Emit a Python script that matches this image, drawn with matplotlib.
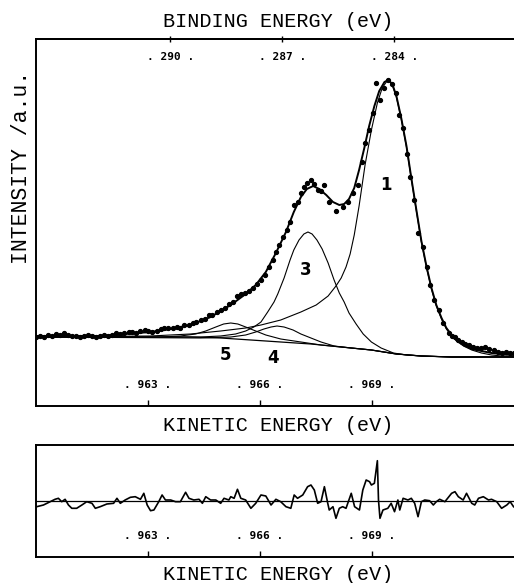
# XPS C 1s spectrum: data points, fitted envelope, components 1,3,4,5 and residual
import numpy as np
import matplotlib.pyplot as plt

# ----------------------------
# data (kinetic energy in eV, intensity in a.u.)
# ----------------------------
ke_data = [960.00, 960.11, 960.22, 960.32, 960.43, 960.54, 960.65, 960.75, 960.86, 960.97,
           961.08, 961.18, 961.29, 961.40, 961.51, 961.61, 961.72, 961.83, 961.94, 962.04,
           962.15, 962.26, 962.37, 962.48, 962.58, 962.69, 962.80, 962.91, 963.01, 963.12,
           963.23, 963.34, 963.44, 963.55, 963.66, 963.77, 963.87, 963.98, 964.09, 964.20,
           964.30, 964.41, 964.52, 964.63, 964.73, 964.84, 964.95, 965.06, 965.17, 965.27,
           965.38, 965.49, 965.60, 965.70, 965.81, 965.92, 966.03, 966.13, 966.24, 966.35,
           966.43, 966.51, 966.62, 966.73, 966.81, 966.91, 967.02, 967.10, 967.18, 967.26,
           967.37, 967.45, 967.56, 967.64, 967.72, 967.86, 968.04, 968.23, 968.37, 968.50,
           968.64, 968.74, 968.82, 968.93, 969.04, 969.12, 969.23, 969.34, 969.44, 969.55,
           969.66, 969.74, 969.85, 969.95, 970.03, 970.14, 970.25, 970.36, 970.47, 970.55,
           970.68, 970.79, 970.92, 971.06, 971.14, 971.22, 971.30, 971.41, 971.49, 971.60,
           971.70, 971.81, 971.92, 972.03, 972.13, 972.27, 972.38, 972.48, 972.59, 972.70,
           972.81]
int_data = [69, 70, 69, 71, 70, 72, 71, 73, 71, 70,
            70, 69, 70, 71, 70, 69, 70, 71, 70, 71,
            73, 72, 73, 74, 74, 73, 75, 76, 75, 74,
            75, 77, 78, 78, 78, 79, 78, 81, 81, 83,
            84, 86, 87, 91, 91, 94, 96, 98, 102, 104,
            110, 112, 113, 115, 118, 122, 126, 131, 139, 146,
            154, 161, 169, 176, 184, 201, 204, 213, 219, 223,
            226, 222, 216, 215, 221, 204, 195, 199, 204, 213,
            221, 244, 263, 276, 293, 323, 306, 318, 326, 322,
            313, 291, 278, 252, 229, 206, 173, 159, 139, 121,
            106, 96, 83, 73, 70, 69, 66, 64, 62, 61,
            59, 58, 58, 59, 57, 56, 54, 53, 54, 53,
            53]

# fitted envelope
ke_fit = [960.00, 961.72, 963.07, 963.61, 964.14, 964.68, 965.22, 965.62, 965.89, 966.16,
          966.43, 966.70, 966.91, 967.10, 967.26, 967.43, 967.59, 967.78, 967.96, 968.13,
          968.26, 968.39, 968.53, 968.66, 968.80, 968.93, 969.07, 969.20, 969.34, 969.44,
          969.55, 969.66, 969.79, 969.93, 970.06, 970.20, 970.33, 970.47, 970.60, 970.73,
          970.87, 971.00, 971.14, 971.27, 971.46, 971.68, 971.94, 972.21, 972.48, 972.86]
int_fit = [70, 70, 74, 77, 81, 89, 101, 112, 121, 134,
           153, 174, 194, 209, 217, 220, 217, 211, 204, 201,
           202, 207, 218, 236, 258, 280, 300, 315, 324, 326,
           322, 310, 288, 260, 228, 195, 165, 139, 118, 101,
           88, 78, 71, 66, 61, 57, 55, 53, 52, 51]

# background
ke_bg = [960.00, 963.07, 964.14, 964.95, 965.76, 966.56, 967.37, 968.18, 968.99, 969.66,
         970.33, 971.14, 972.86]
int_bg = [69, 69, 69, 68, 66, 64, 62, 59, 56, 52, 50, 49, 49]

# component 1
ke_p1 = [960.00, 963.07, 964.14, 964.95, 965.62, 966.03, 966.56, 967.10, 967.51, 967.83,
         968.04, 968.18, 968.31, 968.42, 968.53, 968.66, 968.82, 968.99, 969.15, 969.28,
         969.39, 969.47, 969.55, 969.66, 969.79, 969.93, 970.06, 970.20, 970.33, 970.47,
         970.60, 970.73, 970.87, 971.00, 971.14, 971.27, 971.46, 971.68, 971.94, 972.21,
         972.48, 972.86]
int_p1 = [69, 70, 72, 75, 78, 81, 86, 94, 101, 110,
          120, 128, 139, 152, 171, 200, 241, 276, 303, 318,
          324, 325, 321, 309, 287, 259, 227, 194, 164, 138,
          117, 100, 87, 77, 70, 65, 60, 56, 53, 51,
          50, 50]

# component 3
ke_p3 = [960.00, 964.41, 964.95, 965.35, 965.62, 965.84, 966.03, 966.21, 966.38, 966.48,
         966.65, 966.81, 966.91, 967.05, 967.18, 967.29, 967.40, 967.53, 967.67, 967.83,
         967.99, 968.13, 968.26, 968.39, 968.58, 968.77, 968.99, 969.25, 969.58, 969.93,
         970.33, 971.14, 972.86]
int_p3 = [69, 69, 70, 72, 75, 79, 84, 94, 104, 112,
          128, 146, 156, 166, 172, 174, 172, 166, 157, 143,
          126, 113, 104, 93, 82, 72, 64, 58, 53, 51,
          50, 49, 49]

# component 4
ke_p4 = [960.00, 964.41, 965.22, 965.62, 965.89, 966.11, 966.30, 966.46, 966.65, 966.89,
         967.10, 967.37, 967.64, 967.99, 968.45, 968.99, 969.66, 970.33, 971.14, 972.86]
int_p4 = [69, 68, 69, 71, 74, 77, 79, 80, 79, 76,
          72, 68, 64, 60, 58, 56, 52, 50, 49, 49]

# component 5
ke_p5 = [960.00, 963.34, 963.87, 964.28, 964.55, 964.82, 965.03, 965.22, 965.41, 965.62,
         965.89, 966.16, 966.56, 967.10, 967.64, 968.18, 968.99, 969.66, 970.33, 971.14,
         972.86]
int_p5 = [69, 69, 70, 72, 75, 79, 82, 83, 82, 79,
          75, 71, 67, 64, 61, 59, 56, 52, 50, 49,
          49]

# residual (data - fit)
ke_res = [960.02, 960.20, 960.38, 960.51, 960.60, 960.69, 960.78, 960.87, 960.96, 961.09,
          961.23, 961.36, 961.50, 961.59, 961.72, 961.90, 962.08, 962.17, 962.26, 962.39,
          962.53, 962.66, 962.80, 962.89, 962.98, 963.07, 963.16, 963.29, 963.38, 963.47,
          963.61, 963.74, 963.87, 964.01, 964.10, 964.23, 964.37, 964.46, 964.55, 964.68,
          964.82, 964.95, 965.04, 965.17, 965.22, 965.31, 965.40, 965.49, 965.62, 965.76,
          965.89, 966.03, 966.16, 966.30, 966.43, 966.56, 966.70, 966.83, 966.92, 967.01,
          967.15, 967.28, 967.37, 967.46, 967.55, 967.64, 967.73, 967.82, 967.86, 967.96,
          968.04, 968.13, 968.22, 968.31, 968.45, 968.54, 968.67, 968.76, 968.85, 968.94,
          968.99, 969.07, 969.15, 969.18, 969.22, 969.30, 969.43, 969.52, 969.61, 969.70,
          969.75, 969.84, 969.97, 970.06, 970.15, 970.24, 970.33, 970.42, 970.55, 970.65,
          970.73, 970.82, 970.96, 971.14, 971.23, 971.32, 971.45, 971.54, 971.68, 971.76,
          971.86, 971.99, 972.13, 972.21, 972.35, 972.48, 972.62, 972.71, 972.80, 972.93]
res = [-5.7, -4.0, -0.7, 1.7, 2.7, -0.7, 1.7, -4.0, -7.3, -7.3,
       -4.0, -0.7, -2.3, -7.3, -5.7, -3.0, -2.3, 2.7, -2.3, 1.0,
       3.7, 4.3, 1.7, 7.7, -4.0, -9.7, -9.0, -0.7, 6.0, 1.0,
       1.0, -0.7, -0.7, 8.7, 2.7, 1.0, 1.7, -2.3, 4.3, 1.0,
       1.0, -2.3, 2.7, 1.0, 4.3, 2.7, 11.7, 2.7, 1.0, -7.3,
       -2.3, 6.0, 5.0, -4.0, 1.7, -0.7, -5.7, -7.3, 6.0, 2.7,
       6.0, 14.3, 16.0, 11.0, -2.3, -0.7, 14.3, -2.3, -9.0, -5.7,
       -17.3, -7.3, -5.7, -7.3, 7.7, -5.7, -9.0, 11.0, 21.0, 19.3,
       16.0, 17.7, 40.3, 1.0, -17.3, -9.0, -7.3, -2.3, -10.7, 1.0,
       -9.0, 2.7, 1.0, 2.7, -2.3, -15.7, -0.7, 1.0, 0.3, -4.0,
       -0.7, 1.7, -0.7, 7.7, 9.3, 4.3, 1.0, 7.7, -2.3, -4.0,
       2.7, 4.3, 1.0, 1.7, -0.7, -7.3, -4.0, -0.7, -5.7, -9.0]

ke_ticks = [963, 966, 969]
be_ticks = [290, 287, 284]
photon = 1253.6  # Mg Ka, BE = hv - KE

# component labels
labels = ["1", "3", "5", "4"]
label_ke = [969.39, 967.24, 965.08, 966.35]
label_int = [221, 136, 51, 48]

# ----------------------------
# figure
# ----------------------------
mono = "Liberation Mono"
tick_font = dict(family="DejaVu Sans Mono", fontsize=8, fontweight="bold")

fig = plt.figure(figsize=(5.14, 5.83), dpi=100)
ax = fig.add_axes([36/514, 1 - 406/583, 485/514, 367/583])
axr = fig.add_axes([36/514, 1 - 557/583, 485/514, 112/583])

# main panel
ax.plot(ke_bg, int_bg, color="k", lw=0.9)
for xs, ys in [(ke_p1, int_p1), (ke_p3, int_p3), (ke_p4, int_p4), (ke_p5, int_p5)]:
    ax.plot(xs, ys, color="k", lw=0.8)
ax.plot(ke_fit, int_fit, color="k", lw=1.4)
ax.plot(ke_data, int_data, "o", color="k", ms=2.8, mec="k")

for t, x, y in zip(labels, label_ke, label_int):
    ax.text(x, y, t, fontsize=12, fontweight="bold", ha="center", va="center",
            family="DejaVu Sans")

ax.set_xlim(960, 973)
ax.set_ylim(0, 367)
ax.set_yticks([])
ax.set_xticks(ke_ticks)
ax.set_xticklabels([f". {t} ." for t in ke_ticks], **tick_font)
ax.tick_params(axis="x", direction="in", length=4, width=1, pad=-19)

top = ax.secondary_xaxis("top", functions=(lambda k: photon - k, lambda b: photon - b))
top.set_xticks(be_ticks)
top.set_xticklabels([f". {t} ." for t in be_ticks], **tick_font)
top.tick_params(direction="inout", length=5, width=1, pad=-19)
top.set_xlabel("BINDING ENERGY (eV)", family=mono, fontsize=14.5, labelpad=6)

ax.text(0.5, -0.052, "KINETIC ENERGY (eV)", transform=ax.transAxes, family=mono,
        fontsize=14.5, ha="center", va="center")
ax.text(-0.029, 0.65, "INTENSITY /a.u.", transform=ax.transAxes, family=mono,
        fontsize=15.5, ha="center", va="center", rotation=90)

# residual panel
axr.axhline(0, color="k", lw=0.9)
axr.plot(ke_res, res, color="k", lw=1.2)
axr.set_xlim(960, 973)
axr.set_ylim(-56, 56)
axr.set_yticks([])
axr.set_xticks(ke_ticks)
axr.set_xticklabels([f". {t} ." for t in ke_ticks], **tick_font)
axr.tick_params(axis="x", direction="in", length=4, width=1, pad=-19)
axr.set_xlabel("KINETIC ENERGY (eV)", family=mono, fontsize=14.5, labelpad=6)

for a in (ax, axr, top):
    for s in a.spines.values():
        s.set_linewidth(1.4)

fig.savefig("out.png", dpi=100)
